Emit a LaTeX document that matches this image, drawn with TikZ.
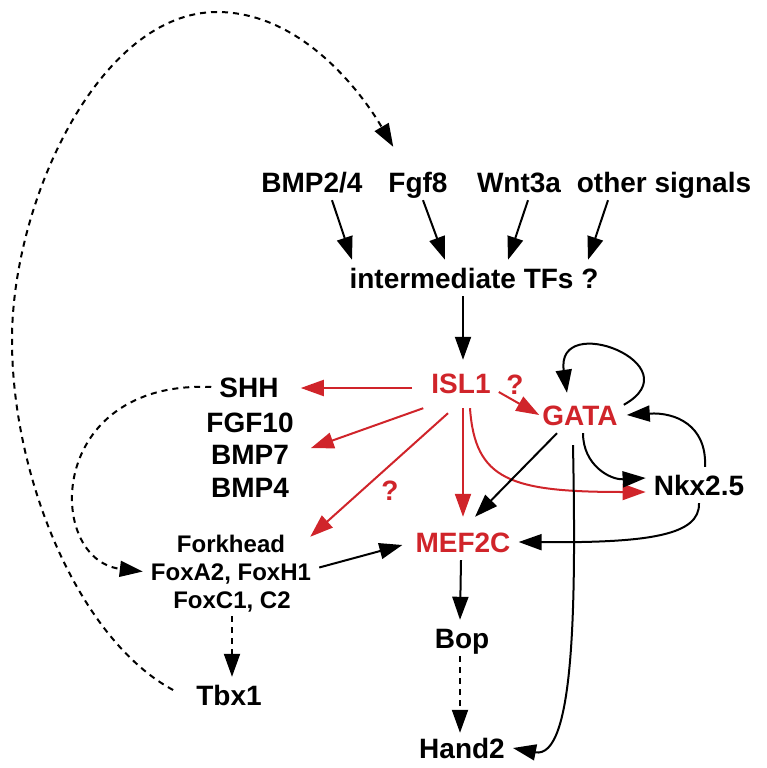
\documentclass[tikz,border=0pt]{standalone}
\usepackage{fontspec}
\setmainfont{Liberation Sans}
\usepackage{xcolor}
\usetikzlibrary{arrows, arrows.meta}
\usetikzlibrary{calc}

\definecolor{islred}{RGB}{208,36,42}

\begin{document}
\begin{tikzpicture}[x=1pt, y=1pt,
    lab/.style={font=\fontsize{28}{32}\selectfont\bfseries, inner sep=8pt, text height=20pt, text depth=0pt, anchor=base},
    redlab/.style={lab, text=islred},
    smalllab/.style={lab, font=\fontsize{24}{28}\selectfont\bfseries, text height=17pt},
    arr/.style={-{Triangle[length=23pt, width=16pt]}, line width=2pt},
    redarr/.style={arr, draw=islred},
    dasharr/.style={arr, dash pattern=on 6pt off 5pt}]
    \useasboundingbox (0,0) rectangle (766,-768);
    % signals
    \node [lab] (bmp) at (312,-192) {BMP2/4};
    \node [lab] (fgf) at (418,-192) {Fgf8};
    \node [lab] (wnt) at (519,-192) {Wnt3a};
    \node [lab] (oth) at (664,-192) {other signals};
    \node [lab] (inter) at (474,-288) {intermediate TFs ?};
    % core network
    \node [redlab] (isl) at (461,-393) {ISL1};
    \node [redlab] (qa) at (515,-394) {?};
    \node [redlab] (gata) at (580,-425) {GATA};
    \node [lab] (nkx) at (699,-495) {Nkx2.5};
    \node [redlab] (mef) at (463,-552) {MEF2C};
    \node [lab] (bop) at (462,-648) {Bop};
    \node [lab] (hand) at (462,-758) {Hand2};
    % left side
    \node [lab] (shh) at (249,-397) {SHH};
    \node [lab] (fgften) at (250,-432) {FGF10};
    \node [lab] (bmpseven) at (250,-464) {BMP7};
    \node [lab] (bmpfour) at (250,-497) {BMP4};
    \node [smalllab] (fork) at (231,-552) {Forkhead};
    \node [smalllab] (foxa) at (231,-580) {FoxA2, FoxH1};
    \node [smalllab] (foxc) at (232,-608) {FoxC1, C2};
    \node [redlab] (qb) at (390,-500) {?};
    \node [lab] (tbx) at (229,-705) {Tbx1};

    \draw [arr] ([xshift=20pt]bmp.south) -- ([xshift=-122pt]inter.north);
    \draw [arr] ([xshift=5pt]fgf.south) -- ([xshift=-29pt]inter.north);
    \draw [arr] ([xshift=9pt]wnt.south) -- ([xshift=34pt]inter.north);
    \draw [arr] ([xshift=-56pt]oth.south) -- ([xshift=114pt]inter.north);
    \draw [arr] ([xshift=-11pt]inter.south) -- ([xshift=2pt, yshift=5pt]isl.north);

    \draw [redarr] ([xshift=-11pt, yshift=-5pt]isl.west) -- ([xshift=14pt, yshift=-1pt]shh.east);
    \draw [redarr] ([yshift=-7pt]isl.south west) -- ([xshift=9pt, yshift=-8pt]fgften.south east);
    \draw [redarr] ([xshift=-13pt, yshift=-12pt]isl.south) -- ([xshift=17pt, yshift=-10pt]fork.north east);
    \draw [redarr] ([xshift=2pt, yshift=-7pt]isl.south) -- ([yshift=7pt]mef.north);
    \draw [redarr] ([yshift=-9pt]isl.east) -- ([xshift=5pt]gata.west);
    \draw [redarr] ([xshift=9pt, yshift=-7pt]isl.south) .. controls (475,-480) and (510,-492) .. ([yshift=-7pt]nkx.west);

    \draw [arr] ([xshift=-2pt, yshift=-8pt]gata.north east) .. controls (695,-365) and (555,-310) .. ([xshift=-13pt, yshift=4pt]gata.north);
    \draw [arr] ([xshift=6pt]nkx.north) .. controls (707,-425) and (675,-412) .. ([xshift=1pt]gata.east);
    \draw [arr] ([xshift=3pt]gata.south) .. controls (583,-465) and (610,-480) .. ([yshift=7pt]nkx.west);
    \draw [arr] ([xshift=-23pt]gata.south) -- ([xshift=12pt, yshift=7pt]mef.north);
    \draw [arr] (nkx.south) .. controls (700,-535) and (650,-543) .. (mef.east);
    \draw [arr] ([yshift=4pt]foxa.east) -- ([xshift=-5pt, yshift=-3pt]mef.west);
    \draw [arr] ([xshift=-2pt]mef.south) -- ([xshift=-2pt]bop.north);
    \draw [arr] ([xshift=-7pt, yshift=-12pt]gata.south) .. controls (576,-600) and (575,-760) .. (hand.east);

    \draw [dasharr] ([xshift=-2pt]bop.south) -- ([xshift=-2pt, yshift=-3pt]hand.north);
    \draw [dasharr] (foxc.south) -- (foxc.south |- tbx.north);
    \draw [dasharr] (shh.west) .. controls (45,-380) and (45,-560) .. (foxa.west);
    \draw [dasharr] ([xshift=-15pt, yshift=5pt]tbx.west) .. controls (80,-640) and (12,-480) .. (12,-340)
        .. controls (12,-200) and (100,-12) .. (217,-12)
        .. controls (300,-12) and (360,-90) .. ([xshift=13pt, yshift=17pt]fgf.north west);
\end{tikzpicture}
\end{document}
